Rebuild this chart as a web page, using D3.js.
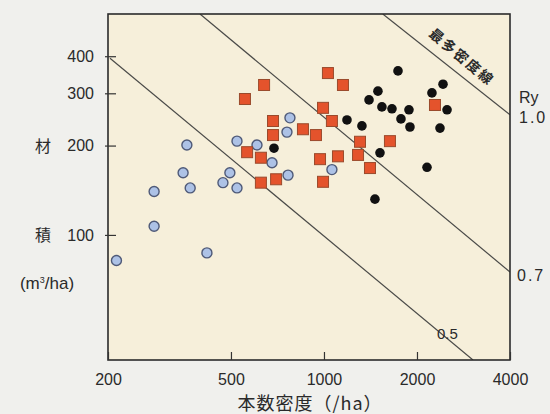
<!DOCTYPE html>
<html>
<head>
<meta charset="utf-8">
<script src="https://cdn.jsdelivr.net/npm/d3@7"></script>
<style>
  html, body { margin: 0; padding: 0; background: #f0f0ed; }
  svg { display: block; }
  text { font-family: "Liberation Sans", Arial, sans-serif; fill: #2a2a2a; }
  .cjk { font-family: "Noto Sans CJK JP", "Noto Sans CJK SC", sans-serif; }
</style>
</head>
<body>
<svg id="chart" width="550" height="414"></svg>
<script>
// ---- data (本数密度 /ha, 材積 m3/ha) ----
const blueN = [213, 282, 282, 350, 360, 369, 418, 471, 496, 523, 523, 607, 679, 759, 776, 765, 1061];
const blueV = [82, 140, 107, 162, 201, 144, 87, 150, 162, 207, 144, 201, 175, 222, 248, 159, 166];

const redN = [1030, 1152, 640, 555, 993, 1061, 684, 855, 942, 684, 1308, 1635, 564, 625, 971, 1110, 1289, 1409, 625, 700, 993, 2287];
const redV = [351, 320, 320, 287, 268, 242, 242, 227, 217, 217, 206, 207, 190, 182, 180, 184, 186, 168, 150, 154, 151, 274];

const blackN = [689, 1187, 1327, 1399, 1462, 1495, 1518, 1540, 1660, 1736, 1775, 1884, 1898, 2155, 2236, 2374, 2428, 2502];
const blackV = [196, 244, 233, 285, 132, 305, 189, 270, 266, 357, 246, 264, 231, 169, 301, 229, 322, 264];

// Ry reference lines (endpoints in data space)
const ryNames = ["最多密度線", "0.7", "0.5"];
const ryN = [[1550, 4000], [397, 4000], [203, 3036]];
const ryV = [[555, 254], [555, 75], [394, 37.9]];

const xTicks = [200, 500, 1000, 2000, 4000];
const yTicks = [100, 200, 300, 400];

// ---- layout ----
const svg = d3.select("#chart");
const L = 108, R = 510, T = 14, B = 360;

const x = d3.scaleLog().domain([200, 4000]).range([L, R]);
const y = d3.scaleLog().domain([37.9, 555]).range([B, T]);

svg.append("rect").attr("x", L).attr("y", T).attr("width", R - L).attr("height", B - T)
  .attr("fill", "#f6efda");

const clip = svg.append("clipPath").attr("id", "clip");
clip.append("rect").attr("x", L).attr("y", T).attr("width", R - L).attr("height", B - T);

// reference lines
const lineG = svg.append("g").attr("clip-path", "url(#clip)");
ryN.forEach((ns, i) => {
  lineG.append("line")
    .attr("x1", x(ns[0])).attr("y1", y(ryV[i][0]))
    .attr("x2", x(ns[1])).attr("y2", y(ryV[i][1]))
    .attr("stroke", "#4a4a48").attr("stroke-width", 1.2);
});

// points
const blue = blueN.map((n, i) => [n, blueV[i]]);
const red = redN.map((n, i) => [n, redV[i]]);
const black = blackN.map((n, i) => [n, blackV[i]]);

svg.append("g").selectAll("circle").data(blue).join("circle")
  .attr("cx", d => x(d[0])).attr("cy", d => y(d[1])).attr("r", 5)
  .attr("fill", "#adc2e6").attr("stroke", "#4f5a78").attr("stroke-width", 1.4);

svg.append("g").selectAll("rect").data(red).join("rect")
  .attr("x", d => x(d[0]) - 5.5).attr("y", d => y(d[1]) - 5.5)
  .attr("width", 11).attr("height", 11)
  .attr("fill", "#e4532c").attr("stroke", "#9a4a2c").attr("stroke-width", 1);

svg.append("g").selectAll("circle").data(black).join("circle")
  .attr("cx", d => x(d[0])).attr("cy", d => y(d[1])).attr("r", 4.8)
  .attr("fill", "#111");

// frame
svg.append("rect").attr("x", L).attr("y", T).attr("width", R - L).attr("height", B - T)
  .attr("fill", "none").attr("stroke", "#2b2b2b").attr("stroke-width", 1.6);

// axes (ticks inward)
const xAxis = d3.axisBottom(x).tickValues(xTicks).tickFormat(d3.format("d")).tickSizeInner(-8).tickSizeOuter(0).tickPadding(14);
const gx = svg.append("g").attr("transform", `translate(0,${B})`).call(xAxis);
gx.select(".domain").remove();
gx.selectAll("line").attr("stroke", "#333").attr("stroke-width", 1.2);
gx.selectAll("text").attr("font-size", 16).attr("fill", "#333")
  .attr("font-family", "Liberation Sans, Arial, sans-serif");

const yAxis = d3.axisLeft(y).tickValues(yTicks).tickFormat(d3.format("d")).tickSizeInner(-8).tickSizeOuter(0).tickPadding(14);
const gy = svg.append("g").attr("transform", `translate(${L},0)`).call(yAxis);
gy.select(".domain").remove();
gy.selectAll("line").attr("stroke", "#333").attr("stroke-width", 1.2);
gy.selectAll("text").attr("font-size", 16).attr("fill", "#333")
  .attr("font-family", "Liberation Sans, Arial, sans-serif");
gy.selectAll(".tick").append("line").attr("x1", 0).attr("x2", -3).attr("stroke", "#333").attr("stroke-width", 1.2);

// axis titles
svg.append("text").attr("class", "cjk").attr("x", 43).attr("y", y(200) + 6)
  .attr("text-anchor", "middle").attr("font-size", 16).text("材");
svg.append("text").attr("class", "cjk").attr("x", 43).attr("y", y(100) + 6)
  .attr("text-anchor", "middle").attr("font-size", 16).text("積");
svg.append("text").attr("x", 47).attr("y", 289)
  .attr("text-anchor", "middle").attr("font-size", 17)
  .html('(m<tspan dy="-6" font-size="9">3</tspan><tspan dy="6">/ha)</tspan>');

svg.append("text").attr("class", "cjk").attr("x", 310).attr("y", 410)
  .attr("text-anchor", "middle").attr("font-size", 18).attr("letter-spacing", 1)
  .text("本数密度（/ha）");

// Ry labels
svg.append("text").attr("x", 519).attr("y", 103).attr("font-size", 16).attr("fill", "#333").text("Ry");
svg.append("text").attr("x", 519).attr("y", 123).attr("font-size", 16).attr("letter-spacing", 2).attr("fill", "#333").text("1.0");
svg.append("text").attr("x", 517).attr("y", 281).attr("font-size", 16).attr("letter-spacing", 2).attr("fill", "#333").text(ryNames[1]);
svg.append("text").attr("x", 437).attr("y", 339).attr("font-size", 15).attr("fill", "#333").text(ryNames[2]);

svg.append("text").attr("class", "cjk")
  .attr("transform", "translate(461,58) rotate(40)")
  .attr("text-anchor", "middle").attr("dominant-baseline", "middle")
  .attr("font-size", 14).attr("font-weight", "bold").attr("letter-spacing", 2)
  .attr("fill", "#3a3a3a").text(ryNames[0]);
</script>
</body>
</html>
